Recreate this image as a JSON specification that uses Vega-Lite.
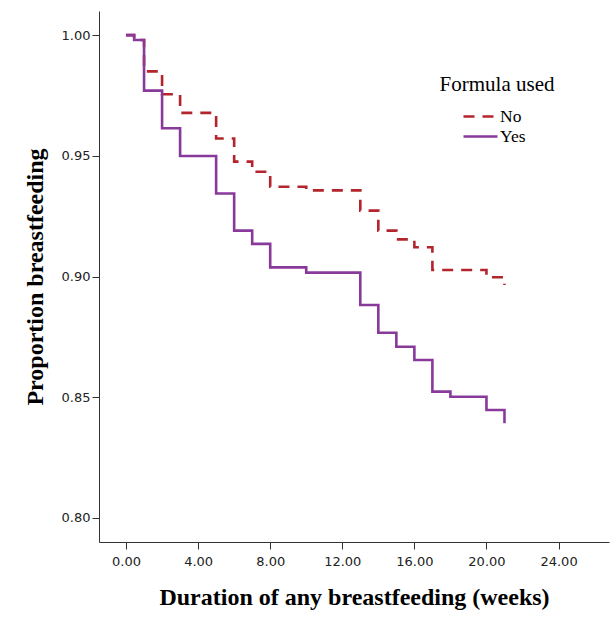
{
  "$schema": "https://vega.github.io/schema/vega-lite/v6.json",
  "width": 510,
  "height": 531,
  "autosize": {"type": "none"},
  "padding": {"left": 99, "top": 11, "right": 2, "bottom": 77},
  "background": "white",
  "data": {
    "values": [
      {"formula": "No", "weeks": 0, "prop": 1.0},
      {"formula": "No", "weeks": 0.45, "prop": 0.998},
      {"formula": "No", "weeks": 1, "prop": 0.985},
      {"formula": "No", "weeks": 2, "prop": 0.9755},
      {"formula": "No", "weeks": 3, "prop": 0.9678},
      {"formula": "No", "weeks": 5, "prop": 0.9572},
      {"formula": "No", "weeks": 6, "prop": 0.9476},
      {"formula": "No", "weeks": 7, "prop": 0.9434},
      {"formula": "No", "weeks": 8, "prop": 0.9372},
      {"formula": "No", "weeks": 10, "prop": 0.9357},
      {"formula": "No", "weeks": 13, "prop": 0.9273},
      {"formula": "No", "weeks": 14, "prop": 0.919},
      {"formula": "No", "weeks": 15, "prop": 0.9154},
      {"formula": "No", "weeks": 16, "prop": 0.9121},
      {"formula": "No", "weeks": 17, "prop": 0.9027},
      {"formula": "No", "weeks": 20, "prop": 0.8997},
      {"formula": "No", "weeks": 21, "prop": 0.8965},
      {"formula": "Yes", "weeks": 0, "prop": 1.0},
      {"formula": "Yes", "weeks": 0.45, "prop": 0.998},
      {"formula": "Yes", "weeks": 1, "prop": 0.977},
      {"formula": "Yes", "weeks": 2, "prop": 0.9614},
      {"formula": "Yes", "weeks": 3, "prop": 0.9499},
      {"formula": "Yes", "weeks": 5, "prop": 0.9344},
      {"formula": "Yes", "weeks": 6, "prop": 0.919},
      {"formula": "Yes", "weeks": 7, "prop": 0.9135},
      {"formula": "Yes", "weeks": 8, "prop": 0.9038},
      {"formula": "Yes", "weeks": 10, "prop": 0.9016},
      {"formula": "Yes", "weeks": 13, "prop": 0.8882},
      {"formula": "Yes", "weeks": 14, "prop": 0.8767},
      {"formula": "Yes", "weeks": 15, "prop": 0.8709},
      {"formula": "Yes", "weeks": 16, "prop": 0.8654},
      {"formula": "Yes", "weeks": 17, "prop": 0.8523},
      {"formula": "Yes", "weeks": 18, "prop": 0.8502},
      {"formula": "Yes", "weeks": 20, "prop": 0.8447},
      {"formula": "Yes", "weeks": 21, "prop": 0.8392}
    ]
  },
  "encoding": {
    "x": {
      "field": "weeks",
      "type": "quantitative",
      "scale": {"domain": [-1.5, 26.8], "nice": false, "zero": false},
      "axis": {
        "values": [0, 4, 8, 12, 16, 20, 24],
        "format": ".2f",
        "title": "Duration of any breastfeeding (weeks)",
        "labelPadding": 6,
        "titlePadding": 17
      }
    },
    "y": {
      "field": "prop",
      "type": "quantitative",
      "scale": {"domain": [0.79, 1.01], "nice": false, "zero": false},
      "axis": {
        "values": [0.8, 0.85, 0.9, 0.95, 1.0],
        "format": ".2f",
        "title": "Proportion breastfeeding",
        "labelPadding": 2,
        "titlePadding": 14
      }
    },
    "color": {
      "field": "formula",
      "type": "nominal",
      "title": "Formula used",
      "scale": {"domain": ["No", "Yes"], "range": ["#b3242c", "#88399a"]},
      "legend": {
        "orient": "none",
        "legendX": 341,
        "legendY": 63,
        "titleAnchor": "middle",
        "titleFont": "Liberation Serif",
        "titleFontWeight": "normal",
        "titleFontSize": 21,
        "titleColor": "#000",
        "titlePadding": 10,
        "labelFont": "Liberation Serif",
        "labelFontSize": 17.5,
        "labelColor": "#000",
        "labelOffset": 8,
        "symbolType": "M-1.7,0H1.7",
        "symbolSize": 400,
        "symbolFillColor": "transparent",
        "symbolStrokeWidth": 2.6,
        "rowPadding": -1
      }
    },
    "strokeDash": {
      "field": "formula",
      "type": "nominal",
      "title": "Formula used",
      "scale": {"domain": ["No", "Yes"], "range": [[11, 8], [1, 0]]}
    }
  },
  "layer": [
    {
      "transform": [{"filter": "datum.formula === 'No'"}],
      "mark": {"type": "line", "interpolate": "step-after", "strokeWidth": 2.6, "clip": true}
    },
    {
      "transform": [{"filter": "datum.formula === 'Yes'"}],
      "mark": {"type": "line", "interpolate": "step-after", "strokeWidth": 2.6, "clip": true}
    }
  ],
  "config": {
    "view": {"stroke": null},
    "axis": {
      "grid": false,
      "domainColor": "#333",
      "tickColor": "#333",
      "tickSize": 7,
      "labelFont": "DejaVu Sans",
      "labelFontSize": 13,
      "labelColor": "#222",
      "titleFont": "Liberation Serif",
      "titleFontWeight": "bold",
      "titleFontSize": 24,
      "titleColor": "#000"
    }
  }
}
